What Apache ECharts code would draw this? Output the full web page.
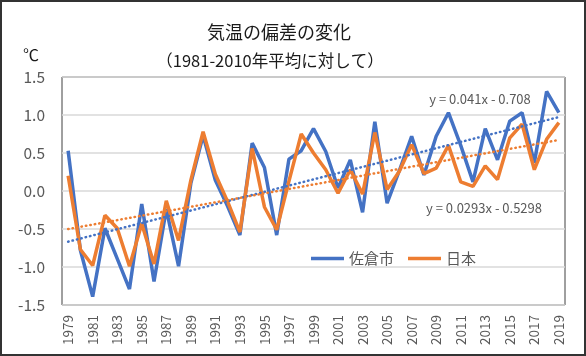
<!DOCTYPE html>
<html><head><meta charset="utf-8">
<script src="https://cdn.jsdelivr.net/npm/echarts@6/dist/echarts.min.js"></script>
<style>html,body{margin:0;padding:0;background:#fff}#c{width:586px;height:356px}</style>
</head><body><div id="c"></div>
<script>
const years = [];
for (let y = 1979; y <= 2019; y++) years.push(String(y));
const sakura = [0.53, -0.78, -1.39, -0.49, -0.89, -1.29, -0.17, -1.19, -0.24, -0.99,
  0.10, 0.73, 0.14, -0.20, -0.58, 0.63, 0.31, -0.58, 0.42, 0.53,
  0.82, 0.52, 0.04, 0.41, -0.28, 0.91, -0.16, 0.27, 0.72, 0.21,
  0.72, 1.03, 0.60, 0.12, 0.82, 0.41, 0.92, 1.03, 0.37, 1.31, 1.03];
const japan = [0.20, -0.77, -0.98, -0.32, -0.49, -0.99, -0.43, -0.96, -0.13, -0.65,
  0.14, 0.78, 0.22, -0.14, -0.54, 0.56, -0.21, -0.51, 0.13, 0.75,
  0.50, 0.28, -0.03, 0.28, -0.04, 0.77, 0.02, 0.26, 0.61, 0.23,
  0.30, 0.60, 0.12, 0.06, 0.33, 0.15, 0.70, 0.88, 0.28, 0.68, 0.90];
const trendSakura = {a: 0.041, b: -0.708, label: 'y = 0.041x - 0.708'};
const trendJapan = {a: 0.0293, b: -0.5298, label: 'y = 0.0293x - 0.5298'};
const seriesNames = ['佐倉市', '日本'];
const titleText = '気温の偏差の変化';
const subtitleText = '（1981-2010年平均に対して）';
const unitText = '℃';

function trendData(t) {
  const n = years.length;
  return years.map((_, i) => (i === 0 || i === n - 1) ? +(t.a * (i + 1) + t.b).toFixed(4) : null);
}

const FONT = '"Noto Sans CJK JP", "Noto Sans", sans-serif';
const BLUE = '#4472C4', ORANGE = '#ED7D31', GREY = '#595959';

const chart = echarts.init(document.getElementById('c'), null, {renderer: 'canvas'});
chart.setOption({
  animation: false,
  textStyle: {fontFamily: FONT},
  graphic: [
    {type: 'rect', shape: {x: 1, y: 1, width: 584, height: 354}, style: {fill: 'none', stroke: '#333', lineWidth: 2}, z: 100},
    {type: 'text', x: 279, y: 32, style: {text: titleText, fontSize: 18, fontFamily: FONT, fill: '#1a1a1a', align: 'center', verticalAlign: 'middle'}},
    {type: 'text', x: 270, y: 61, style: {text: subtitleText, fontSize: 16.5, fontFamily: FONT, fill: '#1a1a1a', align: 'center', verticalAlign: 'middle'}},
    {type: 'text', x: 31, y: 55, style: {text: unitText, fontSize: 16, fontFamily: FONT, fill: '#1a1a1a', align: 'center', verticalAlign: 'middle'}},
    {type: 'text', x: 480, y: 99, style: {text: trendSakura.label, fontSize: 13, fontFamily: FONT, fill: GREY, align: 'center', verticalAlign: 'middle'}, z: 50},
    {type: 'text', x: 484, y: 208, style: {text: trendJapan.label, fontSize: 13, fontFamily: FONT, fill: GREY, align: 'center', verticalAlign: 'middle'}, z: 50}
  ],
  legend: {
    data: seriesNames,
    left: 306, top: 246,
    icon: 'rect', itemWidth: 33, itemHeight: 3.5, itemGap: 14,
    textStyle: {fontSize: 15, color: GREY, fontFamily: FONT}
  },
  grid: {left: 62, top: 77, width: 503, height: 228, show: true, borderColor: '#404040', borderWidth: 1, containLabel: false},
  xAxis: {
    type: 'category', data: years, boundaryGap: true,
    axisLine: {show: false}, axisTick: {show: false},
    axisLabel: {interval: 1, rotate: 90, fontSize: 13.5, color: GREY, margin: 10, fontFamily: FONT}
  },
  yAxis: {
    type: 'value', min: -1.5, max: 1.5, interval: 0.5,
    axisLine: {show: false}, axisTick: {show: false},
    axisLabel: {fontSize: 15.5, color: GREY, margin: 17, fontFamily: FONT, formatter: v => v.toFixed(1)},
    splitLine: {lineStyle: {color: '#d9d9d9', width: 1.5}}
  },
  series: [
    {name: seriesNames[0], type: 'line', data: sakura, symbol: 'none', lineStyle: {color: BLUE, width: 3.5}, itemStyle: {color: BLUE}, z: 2},
    {name: seriesNames[1], type: 'line', data: japan, symbol: 'none', lineStyle: {color: ORANGE, width: 3.5}, itemStyle: {color: ORANGE}, z: 3},
    {name: 'trend1', type: 'line', data: trendData(trendSakura), connectNulls: true, symbol: 'none', lineStyle: {color: BLUE, width: 2.5, type: [0.5, 4], cap: 'round'}, z: 4},
    {name: 'trend2', type: 'line', data: trendData(trendJapan), connectNulls: true, symbol: 'none', lineStyle: {color: ORANGE, width: 2.5, type: [0.5, 4], cap: 'round'}, z: 4}
  ]
});
</script></body></html>
